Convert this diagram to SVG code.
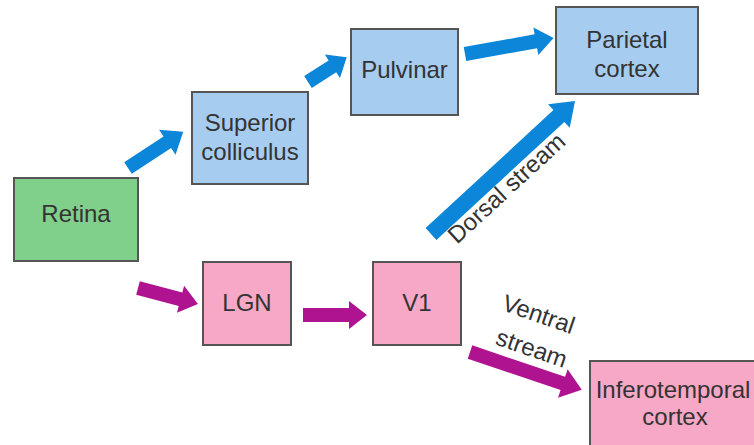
<svg xmlns="http://www.w3.org/2000/svg" width="754" height="445" viewBox="0 0 754 445">
<style>
.box{stroke:#555;stroke-width:2}
.g{fill:#80cf8b}
.b{fill:#a6ccf0}
.p{fill:#f7a8c6}
text{font-family:"Liberation Sans",Arial,sans-serif;font-size:24px;fill:#333;text-anchor:middle}
.blue{fill:#0b86d8}
.mag{fill:#b0138f}
</style>
<rect width="754" height="445" fill="#fff"/>
<g id="connectors">
<path class="blue" transform="translate(128,168) rotate(-33.2)" d="M0,-7 L47,-7 L47,-15 L66,0 L47,15 L47,7 L0,7 Z"/>
<path class="blue" transform="translate(308,82) rotate(-32.7)" d="M0,-7 L29,-7 L29,-14 L46,0 L29,14 L29,7 L0,7 Z"/>
<path class="blue" transform="translate(465,54) rotate(-10.2)" d="M0,-7 L72,-7 L72,-14 L90,0 L72,14 L72,7 L0,7 Z"/>
<path class="blue" transform="translate(431,234) rotate(-42.7)" d="M0,-8 L174,-8 L174,-16 L196,0 L174,16 L174,8 L0,8 Z"/>
<path class="mag" transform="translate(138,288) rotate(14.9)" d="M0,-7 L44,-7 L44,-14 L62,0 L44,14 L44,7 L0,7 Z"/>
<path class="mag" transform="translate(303,315) rotate(0)" d="M0,-7 L46,-7 L46,-14 L64,0 L46,14 L46,7 L0,7 Z"/>
<path class="mag" transform="translate(470,352) rotate(18.7)" d="M0,-7 L98,-7 L98,-15 L118,0 L98,15 L98,7 L0,7 Z"/>
<text transform="translate(512,194) rotate(-42.7)">Dorsal stream</text>
<text transform="translate(536,322) rotate(19)">Ventral</text>
<text transform="translate(529,356) rotate(19)">stream</text>
</g>
<g id="retina"><rect class="box g" x="14" y="178" width="124" height="83"/><text x="76" y="222">Retina</text></g>
<g id="sc"><rect class="box b" x="192" y="92" width="116" height="92"/><text x="250" y="131">Superior</text><text x="250" y="160">colliculus</text></g>
<g id="pulvinar"><rect class="box b" x="351" y="29" width="107" height="86"/><text x="404.5" y="78">Pulvinar</text></g>
<g id="parietal"><rect class="box b" x="556" y="7" width="142" height="87"/><text x="627" y="48">Parietal</text><text x="627" y="77">cortex</text></g>
<g id="lgn"><rect class="box p" x="203" y="262" width="88" height="83"/><text x="247" y="311">LGN</text></g>
<g id="v1"><rect class="box p" x="373" y="262" width="88" height="83"/><text x="417" y="311">V1</text></g>
<g id="it"><rect class="box p" x="590" y="361" width="170" height="90"/><text x="673" y="398">Inferotemporal</text><text x="675" y="425">cortex</text></g>
</svg>
